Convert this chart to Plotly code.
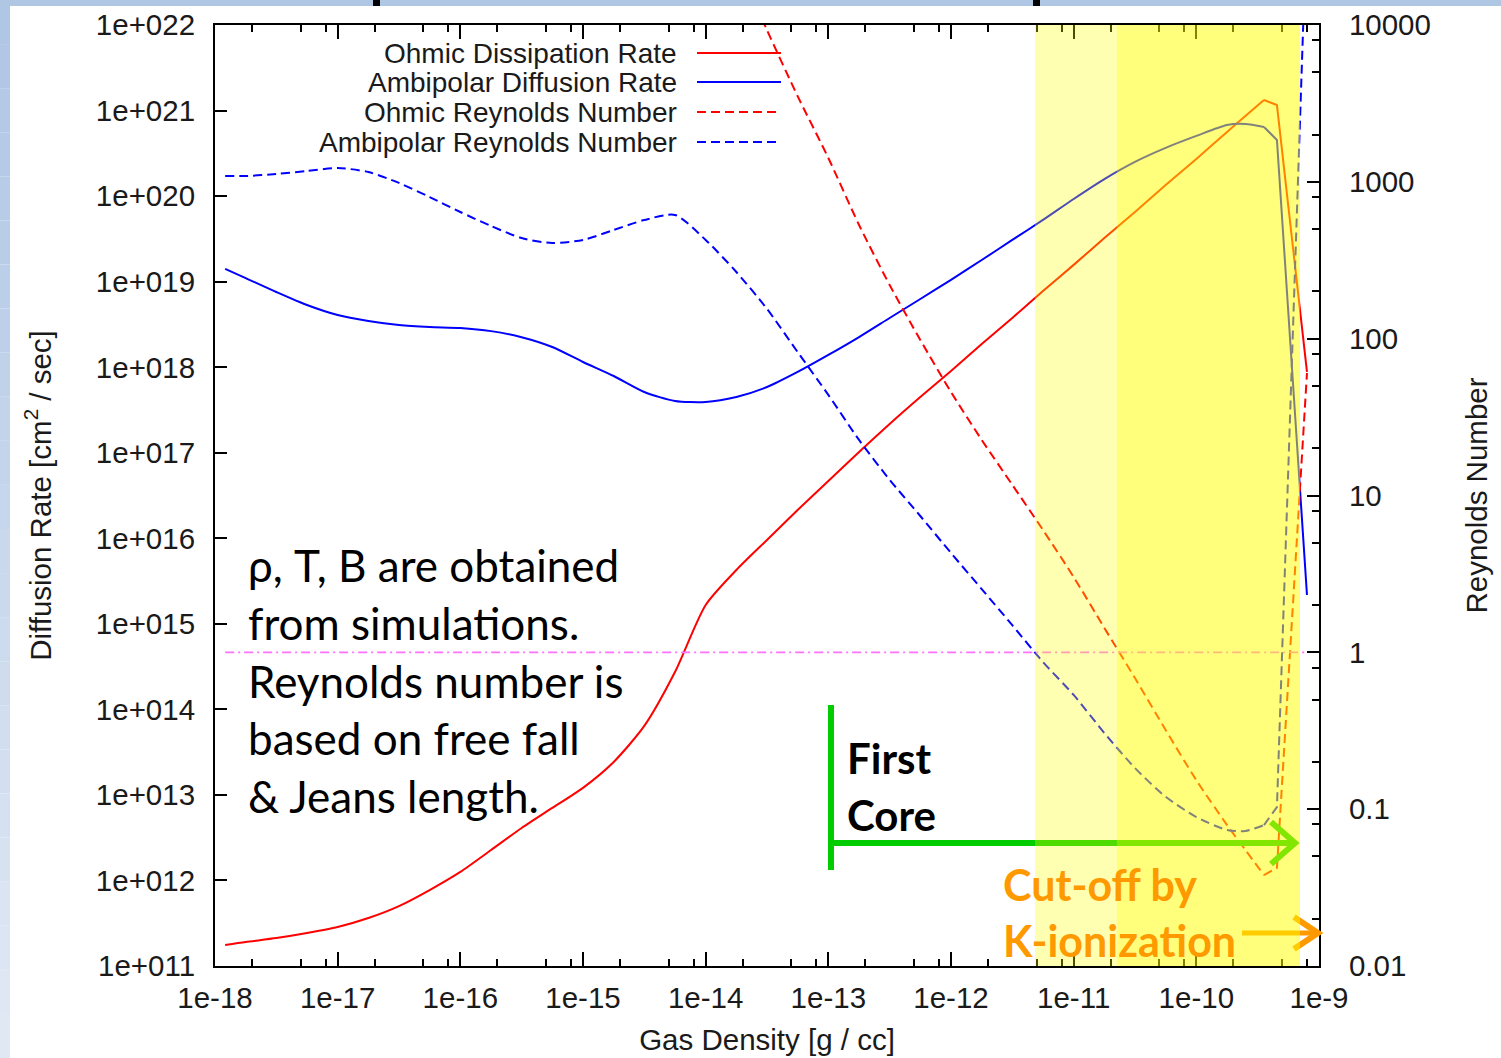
import plotly.graph_objects as go

# ---------------- data ----------------
density = [1.21e-18, 1.78e-18, 3.16e-18, 5.62e-18, 1.0e-17, 1.78e-17, 3.16e-17, 5.62e-17,
           1.0e-16, 1.78e-16, 3.16e-16, 5.62e-16, 1.0e-15, 1.78e-15, 3.16e-15, 5.62e-15,
           1.0e-14, 1.78e-14, 3.16e-14, 5.62e-14, 1.0e-13, 1.78e-13, 3.16e-13, 5.62e-13,
           1.0e-12, 1.78e-12, 3.16e-12, 5.62e-12, 1.0e-11, 1.78e-11, 3.16e-11, 5.62e-11,
           1.0e-10, 1.78e-10, 2.51e-10, 3.56e-10, 4.54e-10, 7.98e-10]

ohmic_rate = [1.76e11, 1.91e11, 2.12e11, 2.43e11, 2.86e11, 3.64e11, 5.02e11, 7.73e11,
              1.26e12, 2.27e12, 4.10e12, 7.04e12, 1.21e13, 2.43e13, 6.40e13, 2.73e14,
              1.66e15, 4.26e15, 9.55e15, 2.14e16, 4.67e16, 1.02e17, 2.17e17, 4.48e17,
              9.02e17, 1.87e18, 3.76e18, 7.78e18, 1.57e19, 3.24e19, 6.52e19, 1.35e20,
              2.72e20, 5.61e20, 8.63e20, 1.33e21, 1.16e21, 8.79e17]

ambipolar_rate = [1.41e19, 1.10e19, 7.57e18, 5.33e18, 4.07e18, 3.47e18, 3.11e18, 2.95e18,
                  2.87e18, 2.64e18, 2.24e18, 1.72e18, 1.15e18, 7.89e17, 5.13e17, 4.03e17,
                  3.92e17, 4.48e17, 5.86e17, 8.79e17, 1.39e18, 2.25e18, 3.76e18, 6.27e18,
                  1.05e19, 1.79e19, 3.07e19, 5.26e19, 9.25e19, 1.58e20, 2.51e20, 3.66e20,
                  5.05e20, 6.78e20, 6.96e20, 6.42e20, 4.53e20, 2.17e15]

ohmic_reynolds = [None, None, None, None, None, None, None, None,
                  None, None, None, None, None, None, None, None,
                  7.2e4, 2.60e4, 9.29e3, 3.52e3, 1.42e3, 531, 220, 98.1,
                  45.7, 22.6, 11.7, 6.03, 3.02, 1.43, 0.685, 0.320,
                  0.153, 0.0792, 0.0550, 0.0380, 0.0422, 60.4]

ambipolar_reynolds = [1089, 1089, 1122, 1172, 1225, 1155, 984, 800,
                      642, 523, 438, 407, 426, 493, 571, 615,
                      426, 266, 155, 82.2, 43.8, 22.6, 12.6, 7.40,
                      4.30, 2.53, 1.49, 0.867, 0.535, 0.306, 0.183, 0.120,
                      0.0891, 0.0736, 0.0726, 0.0792, 0.103, 5.18e4]

unity_level = [1, 1]

series_names = ["Ohmic Dissipation Rate", "Ambipolar Diffusion Rate",
                "Ohmic Reynolds Number", "Ambipolar Reynolds Number"]

x_tick_vals = [1e-18, 1e-17, 1e-16, 1e-15, 1e-14, 1e-13, 1e-12, 1e-11, 1e-10, 1e-9]
x_tick_text = ["1e-18", "1e-17", "1e-16", "1e-15", "1e-14", "1e-13", "1e-12", "1e-11", "1e-10", "1e-9"]
y_tick_vals = [1e11, 1e12, 1e13, 1e14, 1e15, 1e16, 1e17, 1e18, 1e19, 1e20, 1e21, 1e22]
y_tick_text = ["1e+011", "1e+012", "1e+013", "1e+014", "1e+015", "1e+016",
               "1e+017", "1e+018", "1e+019", "1e+020", "1e+021", "1e+022"]
y2_tick_vals = [0.01, 0.1, 1, 10, 100, 1000, 10000]
y2_tick_text = ["0.01", "0.1", "1", "10", "100", "1000", "10000"]
minor_mantissas = [2, 5, 8]

first_core_band = [4.84e-12, 7.0e-10]
k_cutoff_band = [2.25e-11, 7.0e-10]

note_lines = ["ρ, T, B are obtained", "from simulations.", "Reynolds number is",
              "based on free fall", "&amp; Jeans length."]

# ---------------- geometry helpers (pixel -> paper) ----------------
W, H = 1501, 1058
ML, MR, MT, MB = 215, 182, 25, 92
PW, PH = W - ML - MR, H - MT - MB


def px(x):
    return (x - ML) / PW


def py(y):
    return (H - MB - y) / PH


RED = "#ff0000"
BLUE = "#0000ff"
DASH = "9px,5px"
AXFONT = "Liberation Sans, Arial, Helvetica, sans-serif"
SLIDEFONT = "Lato, Carlito, Calibri, sans-serif"
FS = 29.5
TXT = "#1a1a1a"
SMOOTH = 0.7
KNEE = 35  # index where the smooth curves end and the sharp collapse begins

fig = go.Figure()
series = [
    (ohmic_rate, "y", RED, "solid"),
    (ambipolar_rate, "y", BLUE, "solid"),
    (ohmic_reynolds, "y2", RED, DASH),
    (ambipolar_reynolds, "y2", BLUE, DASH),
]
for name, (vals, yax, col, dash) in zip(series_names, series):
    # smooth part of the curve
    fig.add_trace(go.Scatter(x=density[:KNEE + 1], y=vals[:KNEE + 1], mode="lines",
                             name=name, legendgroup=name, yaxis=yax,
                             line=dict(color=col, width=2, dash=dash,
                                       shape="spline", smoothing=SMOOTH)))
    # sharp high-density end of the same curve
    fig.add_trace(go.Scatter(x=density[KNEE:], y=vals[KNEE:], mode="lines",
                             name=name, legendgroup=name, yaxis=yax, showlegend=False,
                             line=dict(color=col, width=2, dash=dash)))
fig.add_trace(go.Scatter(x=[density[0], density[-1]], y=unity_level, mode="lines",
                         name="Re = 1", yaxis="y2",
                         line=dict(color="#ff70ff", width=1.6, dash="9px,4px,2px,4px")))

x_minor = [m * v for v in x_tick_vals[:-1] for m in minor_mantissas]
y2_minor = [m * v for v in y2_tick_vals[:-1] for m in minor_mantissas]

shapes = []
annotations = []

# ---- green "First Core" arrow (under the yellow veil) ----
GREEN = "#00cc00"
shapes.append(dict(type="line", xref="paper", yref="paper", layer="above",
                   x0=px(831), x1=px(831), y0=py(705), y1=py(870),
                   line=dict(color=GREEN, width=6)))
shapes.append(dict(type="line", xref="paper", yref="paper", layer="above",
                   x0=px(831), x1=px(1292), y0=py(843), y1=py(843),
                   line=dict(color=GREEN, width=6)))
shapes.append(dict(type="path", xref="paper", yref="paper", layer="above",
                   path=f"M {px(1271)},{py(822)} L {px(1295)},{py(843)} L {px(1271)},{py(864)}",
                   line=dict(color=GREEN, width=6)))

# ---- orange K-ionization arrow ----
ORANGE = "#ff9900"
shapes.append(dict(type="line", xref="paper", yref="paper", layer="above",
                   x0=px(1242), x1=px(1314), y0=py(933), y1=py(933),
                   line=dict(color=ORANGE, width=5)))
shapes.append(dict(type="path", xref="paper", yref="paper", layer="above",
                   path=f"M {px(1294)},{py(917)} L {px(1318)},{py(933)} L {px(1294)},{py(949)}",
                   line=dict(color=ORANGE, width=6)))

# ---- translucent yellow bands (drawn over the curves) ----
for band in (first_core_band, k_cutoff_band):
    shapes.append(dict(type="rect", xref="x", yref="paper", layer="above",
                       x0=band[0], x1=band[1], y0=0, y1=1,
                       fillcolor="rgba(255,255,0,0.30)", line=dict(width=0)))

# ---- manual gnuplot-style key ----
key_rows = [53, 82, 112, 142]
key_styles = [(RED, "solid"), (BLUE, "solid"), (RED, DASH), (BLUE, DASH)]
for name, yrow, (col, dash) in zip(series_names, key_rows, key_styles):
    annotations.append(dict(text=name, xref="paper", yref="paper", x=px(679), y=py(yrow),
                            xanchor="right", yanchor="middle", showarrow=False,
                            font=dict(family=AXFONT, size=28, color=TXT)))
    shapes.append(dict(type="line", xref="paper", yref="paper", layer="above",
                       x0=px(697), x1=px(781), y0=py(yrow), y1=py(yrow),
                       line=dict(color=col, width=2, dash=dash)))

# ---- slide frame pieces outside the chart ----
top_c = (175, 198, 228)
bot_c = (224, 232, 244)
n_seg = 24
for i in range(n_seg):
    t = i / (n_seg - 1)
    c = tuple(round(a + (b - a) * t) for a, b in zip(top_c, bot_c))
    y0 = i * H / n_seg
    y1 = (i + 1) * H / n_seg
    shapes.append(dict(type="rect", xref="paper", yref="paper", layer="above",
                       x0=px(0), x1=px(10), y0=py(y1), y1=py(y0),
                       fillcolor=f"rgb{c}", line=dict(width=0)))
shapes.append(dict(type="rect", xref="paper", yref="paper", layer="above",
                   x0=px(0), x1=px(W), y0=py(6), y1=py(0),
                   fillcolor="rgb(176,199,228)", line=dict(width=0)))
for xa, xb in ((373, 380), (1033, 1040)):
    shapes.append(dict(type="rect", xref="paper", yref="paper", layer="above",
                       x0=px(xa), x1=px(xb), y0=py(6), y1=py(0),
                       fillcolor="black", line=dict(width=0)))

# ---- slide text ----
note_y = [565, 623, 681, 738, 796]
for line, yy in zip(note_lines, note_y):
    annotations.append(dict(text=line, xref="paper", yref="paper", x=px(246), y=py(yy),
                            xanchor="left", yanchor="middle", showarrow=False,
                            font=dict(family=SLIDEFONT, size=44, color="black")))
for line, yy in (("First", 758), ("Core", 815)):
    annotations.append(dict(text=f"<b>{line}</b>", xref="paper", yref="paper", x=px(845), y=py(yy),
                            xanchor="left", yanchor="middle", showarrow=False,
                            font=dict(family=SLIDEFONT, size=42, color="black")))
annotations.append(dict(text="<b>Cut-off by<br>K-ionization</b>", xref="paper", yref="paper",
                        x=px(1001), y=py(912), xanchor="left", yanchor="middle", align="left",
                        showarrow=False, font=dict(family=SLIDEFONT, size=43, color=ORANGE)))

axis_common = dict(type="log", showline=True, linecolor="black", linewidth=2,
                   ticks="inside", tickcolor="black", tickwidth=1.5,
                   showgrid=False, zeroline=False, automargin=False,
                   tickfont=dict(family=AXFONT, size=FS, color=TXT))

fig.update_layout(
    width=W, height=H,
    margin=dict(l=ML, r=MR, t=MT, b=MB, autoexpand=False),
    paper_bgcolor="white", plot_bgcolor="white",
    showlegend=False,
    font=dict(family=AXFONT, size=FS, color=TXT),
    xaxis=dict(axis_common, range=[-18, -9], mirror="ticks", ticklen=14,
               tickmode="array", tickvals=x_tick_vals, ticktext=x_tick_text,
               ticklabelstandoff=5,
               minor=dict(ticks="inside", ticklen=7, tickwidth=1.5, tickcolor="black",
                          tickmode="array", tickvals=x_minor, showgrid=False),
               title=dict(text="Gas Density [g / cc]", standoff=16,
                          font=dict(family=AXFONT, size=FS, color=TXT))),
    yaxis=dict(axis_common, range=[11, 22], ticklen=12,
               tickmode="array", tickvals=y_tick_vals, ticktext=y_tick_text,
               ticklabelstandoff=12,
               title=dict(text="Diffusion Rate [cm<sup>2</sup> / sec]", standoff=36,
                          font=dict(family=AXFONT, size=FS, color=TXT))),
    yaxis2=dict(axis_common, range=[-2, 4], overlaying="y", side="right", ticklen=12,
                tickmode="array", tickvals=y2_tick_vals, ticktext=y2_tick_text,
                ticklabelstandoff=22,
                minor=dict(ticks="inside", ticklen=7, tickwidth=1.5, tickcolor="black",
                           tickmode="array", tickvals=y2_minor, showgrid=False),
                title=dict(text="Reynolds Number", standoff=36,
                           font=dict(family=AXFONT, size=FS, color=TXT))),
    shapes=shapes,
    annotations=annotations,
)

fig.write_html("out.html")
